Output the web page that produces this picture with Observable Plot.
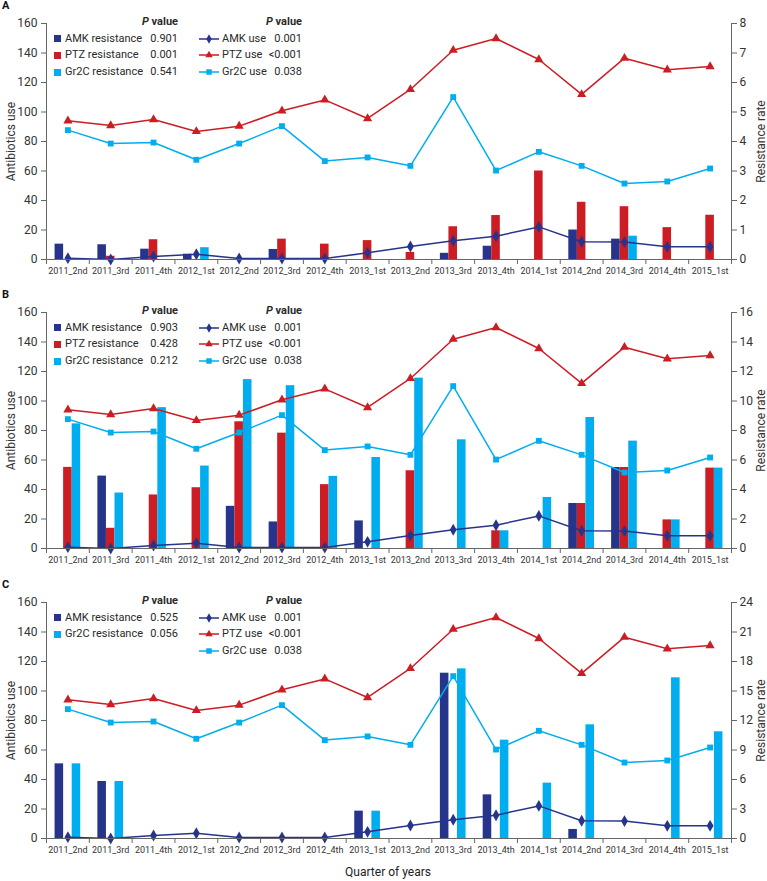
<!DOCTYPE html>
<html>
<head>
<meta charset="utf-8">
<script src="https://cdn.jsdelivr.net/npm/d3@7"></script>
<script src="https://cdn.jsdelivr.net/npm/@observablehq/plot@0.6"></script>
<style>
  body { margin: 0; background: #fff; font-family: Roboto, "Open Sans", sans-serif; }
  #wrap { position: relative; width: 767px; height: 881px; overflow: hidden; }
  .panel { position: absolute; left: 0; width: 767px; }
  .letter { position: absolute; left: 2px; font-weight: bold; font-size: 11px; color: #111; line-height: 12px; }
  .lg { position: absolute; font-size: 11px; color: #2a2a2a; line-height: 14px; height: 14px; white-space: nowrap; }
  .lg.r { text-align: right; }
  .lg.h { font-weight: bold; }
  .sw { position: absolute; width: 7px; height: 7px; }
  .xtitle { position: absolute; top: 865px; left: 0; width: 776px; text-align: center; font-size: 12px; color: #222; }
</style>
</head>
<body>
<div id="wrap"></div>
<script>
// ---------- data ----------
const quarters = ["2011_2nd","2011_3rd","2011_4th","2012_1st","2012_2nd","2012_3rd","2012_4th","2013_1st",
                  "2013_2nd","2013_3rd","2013_4th","2014_1st","2014_2nd","2014_3rd","2014_4th","2015_1st"];

// Antibiotics use (left axis), same in all panels
const amkUse  = [0.9, 0, 2.0, 3.6, 0.7, 0.7, 0.7, 4.5, 8.8, 12.7, 15.8, 22.1, 12.0, 11.8, 8.6, 8.6];
const ptzUse  = [94.0, 90.8, 94.9, 86.8, 90.4, 100.8, 108.2, 95.6, 115.3, 141.9, 149.8, 135.6, 111.9, 136.5, 128.6, 130.8];
const gr2cUse = [87.7, 78.6, 79.3, 67.6, 78.6, 90.4, 66.7, 69.2, 63.5, 110.1, 60.3, 73.0, 63.5, 51.5, 52.9, 61.7];

// Resistance rates (right axis)
const amkResA  = [0.52, 0.50, 0.35, 0.18, null, 0.34, null, null, null, 0.21, 0.45, null, 1.00, 0.69, null, null];
const ptzResA  = [null, 0.11, 0.67, null, null, 0.69, 0.52, 0.64, 0.24, 1.11, 1.49, 3.00, 1.94, 1.79, 1.08, 1.50];
const gr2cResA = [null, null, null, 0.40, null, null, null, null, null, null, null, null, null, 0.79, null, null];

const amkResB  = [null, 4.91, null, null, 2.86, 1.80, null, 1.87, null, null, null, null, 3.05, 5.49, null, null];
const ptzResB  = [5.50, 1.37, 3.63, 4.12, 8.59, 7.82, 4.33, null, 5.27, null, 1.20, null, 3.05, 5.49, 1.94, 5.45];
const gr2cResB = [8.45, 3.76, 9.55, 5.59, 11.45, 11.04, 4.89, 6.17, 11.55, 7.37, 1.20, 3.46, 8.88, 7.28, 1.94, 5.45];

const amkResC  = [7.59, 5.80, null, null, null, null, null, 2.78, null, 16.81, 4.44, null, 0.92, null, null, null];
const gr2cResC = [7.59, 5.80, null, null, null, null, null, 2.78, null, 17.25, 10.0, 5.63, 11.56, null, 16.34, 10.85];

const leftTicks = [0, 20, 40, 60, 80, 100, 120, 140, 160];
const rightMaxA = 8, rightMaxB = 16, rightMaxC = 24;

const pA = {amkRes: "0.901", ptzRes: "0.001", gr2cRes: "0.541"};
const pB = {amkRes: "0.903", ptzRes: "0.428", gr2cRes: "0.212"};
const pC = {amkRes: "0.525", gr2cRes: "0.056"};
const pUse = {amk: "0.001", ptz: "<0.001", gr2c: "0.038"};

// ---------- style ----------
const NAVY = "#27348b", RED = "#cc1c24", CYAN = "#00aeef";
const AXIS = "#666";

const wrap = document.getElementById("wrap");

function makePanel(letter, top, res, rmax, pvals) {
  const k = 160 / rmax;
  const slots = [
    {vals: res.amk, fill: NAVY, slot: 0},
    {vals: res.ptz, fill: RED, slot: 1},
    {vals: res.gr2c, fill: CYAN, slot: 2}
  ];
  const bars = [];
  slots.forEach(s => { if (s.vals) s.vals.forEach((v, i) => { if (v != null) bars.push({i, v, slot: s.slot, fill: s.fill}); }); });
  const use = quarters.map((q, i) => ({i, q, amk: amkUse[i], ptz: ptzUse[i], gr2c: gr2cUse[i]}));
  const bw = 0.2;

  const svg = Plot.plot({
    width: 767, height: 289,
    marginLeft: 46, marginRight: 36, marginTop: 23, marginBottom: 30,
    style: {fontFamily: "Roboto, 'Open Sans', sans-serif", background: "transparent", color: "#333"},
    x: {domain: [0, quarters.length], axis: null},
    y: {domain: [0, 160], axis: null},
    marks: [
      Plot.rectY(bars, {x1: d => d.i + 0.2 + bw * d.slot, x2: d => d.i + 0.2 + bw * (d.slot + 1), y1: 0, y2: d => d.v * k, fill: d => d.fill}),
      Plot.line(use, {x: d => d.i + 0.5, y: "amk", stroke: NAVY, strokeWidth: 1.5}),
      Plot.line(use, {x: d => d.i + 0.5, y: "ptz", stroke: RED, strokeWidth: 1.5}),
      Plot.line(use, {x: d => d.i + 0.5, y: "gr2c", stroke: CYAN, strokeWidth: 1.5}),
      Plot.dot(use, {x: d => d.i + 0.5, y: "amk", symbol: "diamond", fill: NAVY, r: 3.6}),
      Plot.dot(use, {x: d => d.i + 0.5, y: "ptz", symbol: "triangle", fill: RED, r: 3.4}),
      Plot.dot(use, {x: d => d.i + 0.5, y: "gr2c", symbol: "square", fill: CYAN, r: 3.3}),
      // axes
      Plot.ruleX([0], {stroke: AXIS}),
      Plot.ruleX([quarters.length], {stroke: AXIS}),
      Plot.ruleY([0], {stroke: AXIS}),
      Plot.axisY({anchor: "left", ticks: leftTicks, tickSize: 5, tickPadding: 4, fontSize: 12, stroke: AXIS,
                  label: "Antibiotics use", labelAnchor: "center", labelArrow: "none", labelOffset: 40}),
      Plot.axisY({anchor: "right", ticks: leftTicks, tickFormat: d => d / k, tickSize: 5, tickPadding: 3, fontSize: 12, stroke: AXIS,
                  label: "Resistance rate", labelAnchor: "center", labelArrow: "none", labelOffset: 33}),
      Plot.axisX({ticks: d3.range(0, quarters.length + 1), tickFormat: () => "", tickSize: 5, stroke: AXIS, label: null}),
      Plot.axisX({ticks: quarters.map((q, i) => i + 0.5), tickFormat: v => quarters[Math.floor(v)], tickSize: 0, tickPadding: 8, fontSize: 9, label: null})
    ]
  });
  const div = document.createElement("div");
  div.className = "panel";
  div.style.top = top + "px";
  div.appendChild(svg);
  wrap.appendChild(div);

  const L = document.createElement("div");
  L.className = "letter"; L.style.top = (top - 0) + "px"; L.textContent = letter;
  wrap.appendChild(L);

  // legend
  function txt(s, x, cy, cls, right) {
    const e = document.createElement("div");
    e.className = "lg " + (cls || "");
    e.style.top = (top + cy - 7) + "px";
    if (right) { e.style.right = (767 - x) + "px"; e.style.textAlign = "right"; }
    else e.style.left = x + "px";
    e.innerHTML = s;
    wrap.appendChild(e);
  }
  function sq(color, x, cy) {
    const e = document.createElement("div");
    e.className = "sw"; e.style.background = color;
    e.style.left = x + "px"; e.style.top = (top + cy - 3.5) + "px";
    wrap.appendChild(e);
  }
  function lineSw(color, sym, x, cy) {
    const e = document.createElementNS("http://www.w3.org/2000/svg", "svg");
    e.setAttribute("width", 22); e.setAttribute("height", 10);
    e.style.position = "absolute"; e.style.left = (x - 1) + "px"; e.style.top = (top + cy - 5) + "px";
    const g = d3.select(e);
    g.append("line").attr("x1", 1).attr("x2", 21).attr("y1", 5).attr("y2", 5).attr("stroke", color).attr("stroke-width", 1.5);
    const type = sym === "diamond" ? d3.symbolDiamond : sym === "triangle" ? d3.symbolTriangle : d3.symbolSquare;
    const size = sym === "diamond" ? 26 : sym === "triangle" ? 24 : 30;
    g.append("path").attr("d", d3.symbol(type, size)()).attr("transform", "translate(11,5)").attr("fill", color);
    wrap.appendChild(e);
  }
  const rows = [21.7, 38.5, 55.2, 72.2];
  txt("<i>P</i> value", 178, rows[0], "h", true);
  txt("<i>P</i> value", 302, rows[0], "h", true);
  const leftItems = [];
  leftItems.push({c: NAVY, t: "AMK resistance", p: pvals.amkRes});
  if (pvals.ptzRes) leftItems.push({c: RED, t: "PTZ resistance", p: pvals.ptzRes});
  leftItems.push({c: CYAN, t: "Gr2C resistance", p: pvals.gr2cRes});
  leftItems.forEach((it, j) => {
    sq(it.c, 53.5, rows[j + 1]);
    txt(it.t, 65, rows[j + 1]);
    txt(it.p, 178, rows[j + 1], "", true);
  });
  const rightItems = [
    {c: NAVY, s: "diamond", t: "AMK use", p: pUse.amk},
    {c: RED, s: "triangle", t: "PTZ use", p: pUse.ptz},
    {c: CYAN, s: "square", t: "Gr2C use", p: pUse.gr2c}
  ];
  rightItems.forEach((it, j) => {
    lineSw(it.c, it.s, 199, rows[j + 1]);
    txt(it.t, 222, rows[j + 1]);
    txt(it.p.replace("<", "&lt;"), 302, rows[j + 1], "", true);
  });
}

makePanel("A", 0, {amk: amkResA, ptz: ptzResA, gr2c: gr2cResA}, rightMaxA, pA);
makePanel("B", 289, {amk: amkResB, ptz: ptzResB, gr2c: gr2cResB}, rightMaxB, pB);
makePanel("C", 579, {amk: amkResC, ptz: null, gr2c: gr2cResC}, rightMaxC, pC);

const xt = document.createElement("div");
xt.className = "xtitle"; xt.textContent = "Quarter of years";
wrap.appendChild(xt);
</script>
</body>
</html>
